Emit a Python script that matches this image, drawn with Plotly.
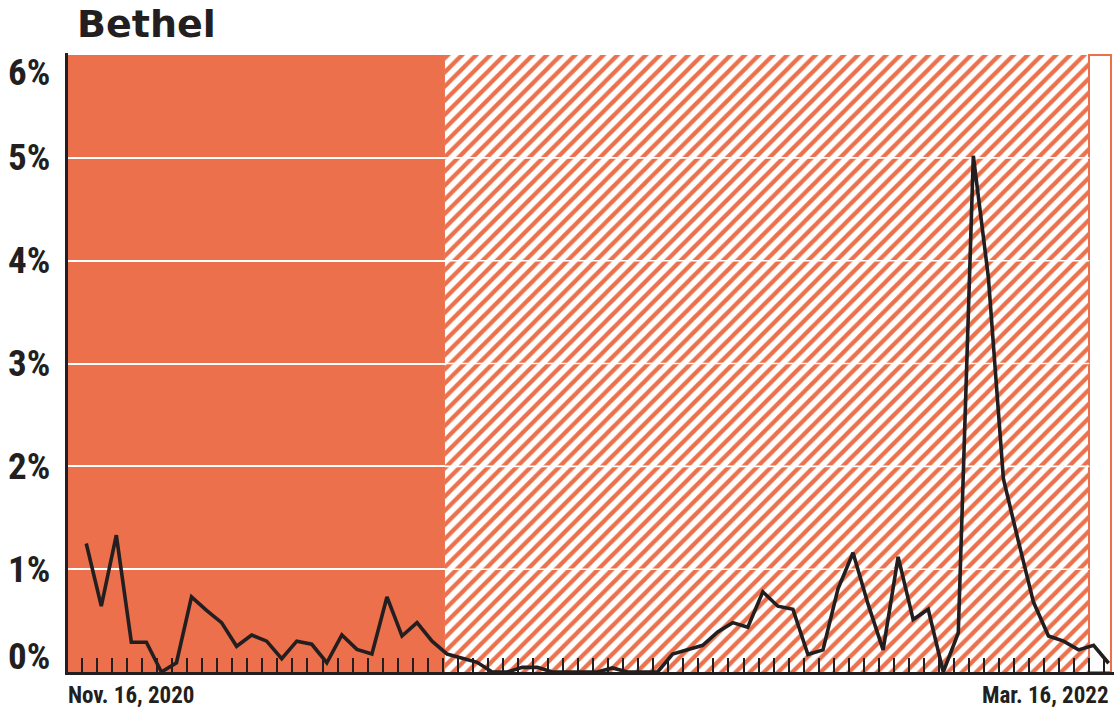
import pandas as pd
import plotly.graph_objects as go

ORANGE = "#EB704B"
INK = "#231F20"
LABEL_FONT = "Roboto Condensed, Roboto, sans-serif"

# Weekly test positivity for Bethel, in percent
first_week = "2020-11-24"
positivity = [1.25, 0.64, 1.33, 0.29, 0.29, 0.0, 0.09, 0.73, 0.60, 0.48,
              0.25, 0.36, 0.30, 0.13, 0.30, 0.27, 0.09, 0.36, 0.22, 0.175,
              0.73, 0.35, 0.48, 0.30, 0.175, 0.135, 0.094, 0.0, 0.0, 0.045,
              0.045, 0.0, 0.0, 0.0, 0.0, 0.04, 0.0, 0.0, 0.0, 0.175,
              0.22, 0.26, 0.39, 0.48, 0.435, 0.78, 0.64, 0.61, 0.17, 0.215,
              0.81, 1.16, 0.66, 0.215, 1.12, 0.51, 0.61, 0.0, 0.38, 5.02,
              3.84, 1.88, 1.27, 0.68, 0.35, 0.30, 0.215, 0.26, 0.085]
weeks = pd.date_range(first_week, periods=len(positivity), freq="7D")

# Time window and shaded periods
axis_start, axis_end = "2020-11-15 12:00", "2022-03-17 12:00"
solid_period = ("2020-11-15 12:00", "2021-05-10")
hatched_period = ("2021-05-10", "2022-03-06")
open_period = ("2022-03-06", "2022-03-16")

y_ticks = [0, 1, 2, 3, 4, 5, 6]
y_labels = [f"{v}%" for v in y_ticks]
y_top = 6
x_labels = ["Nov. 16, 2020", "Mar. 16, 2022"]
title = "Bethel"
WEEK_MS = 7 * 24 * 3600 * 1000


def span(period):
    a, b = pd.Timestamp(period[0]), pd.Timestamp(period[1])
    return a + (b - a) / 2, (b - a).total_seconds() * 1000


fig = go.Figure()

# Hatched period
mid, width = span(hatched_period)
fig.add_trace(go.Bar(
    x=[mid], y=[y_top], base=0, width=[width],
    marker=dict(color="white", line=dict(width=0),
                pattern=dict(shape="/", fgcolor=ORANGE, bgcolor="white",
                             size=10, solidity=0.42, fillmode="replace")),
    hoverinfo="skip", showlegend=False))

# Open-ended last period: white box with orange outline
mid, width = span(open_period)
fig.add_trace(go.Bar(
    x=[mid], y=[y_top], base=0, width=[width],
    marker=dict(color="white", line=dict(color=ORANGE, width=2)),
    hoverinfo="skip", showlegend=False))

# White gridlines carried across the hatched period
grid_x, grid_y = [], []
for v in y_ticks[1:-1]:
    grid_x += [pd.Timestamp(hatched_period[0]), pd.Timestamp(hatched_period[1]), None]
    grid_y += [v, v, None]
fig.add_trace(go.Scatter(x=grid_x, y=grid_y, mode="lines",
                         line=dict(color="white", width=1.6),
                         hoverinfo="skip", showlegend=False))

# Positivity line
fig.add_trace(go.Scatter(x=weeks, y=positivity, mode="lines",
                         line=dict(color=INK, width=3.6),
                         showlegend=False))

# Solid period underneath the gridlines
fig.add_shape(type="rect", xref="x", yref="y",
              x0=solid_period[0], x1=solid_period[1], y0=0, y1=y_top,
              fillcolor=ORANGE, line=dict(width=0), layer="below")

annotations = []
for v, lab in zip(y_ticks, y_labels):
    shift = 16 if v == y_ticks[0] else (-17 if v == y_ticks[-1] else 0)
    annotations.append(dict(
        text=lab, xref="paper", x=0, xanchor="right", xshift=-16,
        yref="y", y=v, yanchor="middle", yshift=shift, showarrow=False,
        font=dict(family=LABEL_FONT, size=37, color=INK, weight="bold")))
annotations.append(dict(
    text=x_labels[0], xref="paper", x=0, xanchor="left", xshift=-2,
    yref="paper", y=0, yanchor="top", yshift=-8, showarrow=False,
    font=dict(family=LABEL_FONT, size=23, color=INK, weight="bold")))
annotations.append(dict(
    text=x_labels[1], xref="paper", x=1, xanchor="right", xshift=-3,
    yref="paper", y=0, yanchor="top", yshift=-8, showarrow=False,
    font=dict(family=LABEL_FONT, size=23, color=INK, weight="bold")))
annotations.append(dict(
    text=title, xref="paper", x=0, xanchor="left", xshift=7,
    yref="paper", y=1, yanchor="bottom", yshift=5, showarrow=False,
    font=dict(family="DejaVu Sans", size=38, color=INK, weight="bold")))

fig.update_layout(
    width=1116, height=714,
    margin=dict(l=68, r=2, t=53, b=42),
    paper_bgcolor="white", plot_bgcolor="white",
    barmode="overlay", bargap=0,
    annotations=annotations,
    xaxis=dict(type="date", range=[axis_start, axis_end],
               showgrid=False, zeroline=False,
               showline=True, linecolor=INK, linewidth=3,
               ticks="inside", ticklen=14, tickwidth=2, tickcolor=INK,
               tick0="2020-11-22", dtick=WEEK_MS, showticklabels=False),
    yaxis=dict(range=[0, y_top + 0.02], tickvals=y_ticks[1:-1],
               showticklabels=False, ticks="",
               showgrid=True, gridcolor="white", gridwidth=1.6,
               zeroline=False, showline=True, linecolor=INK, linewidth=3),
)

fig.write_html("out.html")
